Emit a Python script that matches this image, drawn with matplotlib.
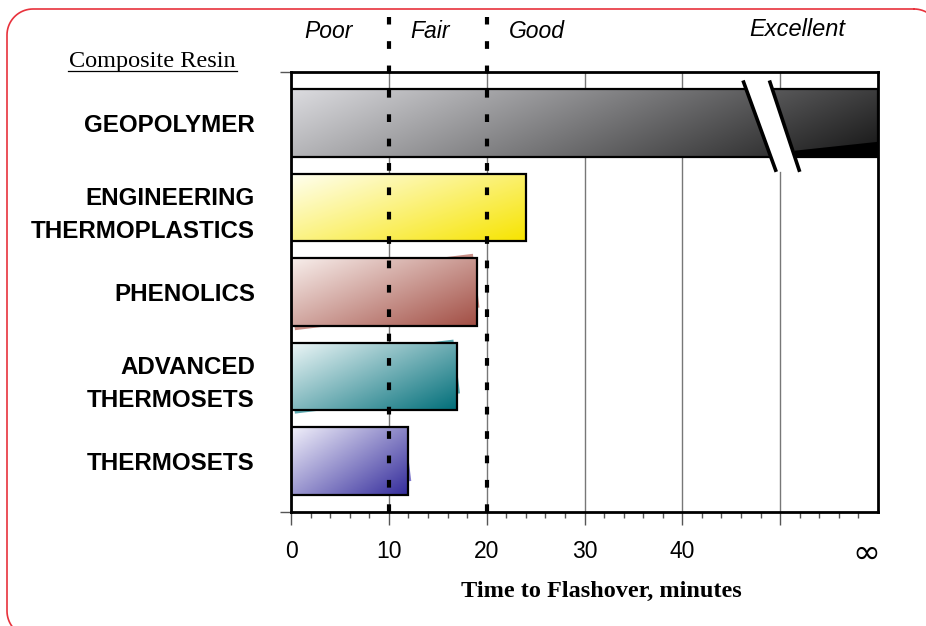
import numpy as np
import matplotlib
matplotlib.use('Agg')
import matplotlib.pyplot as plt
from matplotlib.colors import to_rgb
from matplotlib.patches import Rectangle, Polygon
from matplotlib.transforms import Affine2D, blended_transform_factory
from matplotlib.ticker import FixedLocator

plt.rcParams['font.family'] = ['Liberation Sans', 'DejaVu Sans']

# datos
categories = ['GEOPOLYMER', 'ENGINEERING\nTHERMOPLASTICS', 'PHENOLICS',
              'ADVANCED\nTHERMOSETS', 'THERMOSETS']
minutes = [np.inf, 24, 19, 17, 12]   # geopolymer never reaches flashover
light_colors = ['#dcdce0', '#fffff2', '#f8efec', '#eef7f8', '#f2f1fb']
dark_colors = ['#151515', '#f7e400', '#a24e44', '#006e79', '#332b9b']
shadow_colors = [None, None, '#c07b72', '#3f9aa3', '#6b63c4']
rating_labels = ['Poor', 'Fair', 'Good', 'Excellent']
rating_limits = [10, 20]
tick_values = [0, 10, 20, 30, 40, 50]
tick_labels = ['0', '10', '20', '30', '40', '']

X_MAX = 60
BAR_H = 0.8
BREAK_AT = 49


def gradiente(c0, c1, wu, wv):
    u = np.linspace(0, 1, 300)[None, :]
    v = np.linspace(0, 1, 80)[:, None]
    t = np.clip(wu * u + wv * v, 0, 1)
    c0, c1 = np.array(to_rgb(c0)), np.array(to_rgb(c1))
    return c0 + (c1 - c0) * t[..., None]


def borde_redondeado(x0, y0, x1, y1, r):
    # rectangulo con esquinas redondeadas, eje y hacia abajo
    pts = []
    for cx, cy, a0 in [(x1 - r, y0 + r, -90), (x1 - r, y1 - r, 0),
                       (x0 + r, y1 - r, 90), (x0 + r, y0 + r, 180)]:
        a = np.radians(np.linspace(a0, a0 + 90, 20))
        pts += list(zip(cx + r * np.cos(a), cy + r * np.sin(a)))
    pts.append(pts[0])
    return np.array(pts)


fig = plt.figure(figsize=(9.26, 6.26), dpi=100)

# fondo con borde rojo redondeado (coordenadas en pixeles)
bg = fig.add_axes([0, 0, 1, 1], zorder=-1)
bg.set_xlim(0, 926)
bg.set_ylim(626, 0)
bg.axis('off')
b = borde_redondeado(7, 9, 940, 637, 26)
bg.plot(b[:, 0], b[:, 1], color='#e8323c', lw=1.2)

ax = fig.add_axes([291 / 926, 1 - 512 / 626, 587 / 926, 440 / 626])
ax.set_xlim(0, X_MAX)
ax.set_ylim(4.6, -0.6)

ypos = np.arange(len(categories))
for i, (val, c0, c1, sc) in enumerate(zip(minutes, light_colors, dark_colors, shadow_colors)):
    w = min(val, X_MAX)
    y0, y1 = ypos[i] - BAR_H / 2, ypos[i] + BAR_H / 2
    if i == 0:
        img = gradiente(c0, c1, 0.8, 0.2)
    else:
        img = gradiente(c0, c1, 0.55, 0.45)
    ax.imshow(img, extent=(0, w, y1, y0), aspect='auto', zorder=2, interpolation='bilinear')
    ax.add_patch(Rectangle((0, y0), w, BAR_H, fc='none', ec='black', lw=1.6, zorder=3))
    if sc is not None:
        ax.set_xlim(0, X_MAX)
        ax.set_ylim(4.6, -0.6)
        cx, cy = ax.transData.transform((w / 2, ypos[i]))
        tr = ax.transData + Affine2D().translate(-cx, -cy).scale(1.0, 0.8).rotate_deg(7).translate(cx, cy)
        ax.add_patch(Rectangle((0, y0), w, BAR_H, fc=sc, ec='none', alpha=0.85,
                               zorder=1.5, transform=tr))

# cuña negra y corte del eje en GEOPOLYMER
y1 = ypos[0] + BAR_H / 2
ax.add_patch(Polygon([(BREAK_AT + 2.5, 0.33), (X_MAX, 0.225), (X_MAX, y1), (BREAK_AT + 2.5, y1)],
                     closed=True, fc='black', ec='none', zorder=2.5))
l1 = [(BREAK_AT - 2.8, -0.5), (BREAK_AT + 0.6, 0.58)]
l2 = [(BREAK_AT - 0.1, -0.5), (BREAK_AT + 3.0, 0.58)]
ax.add_patch(Polygon([l1[0], l2[0], l2[1], l1[1]], closed=True, fc='white', ec='none', zorder=4))
for l in (l1, l2):
    ax.plot([l[0][0], l[1][0]], [l[0][1], l[1][1]], color='black', lw=2.6, zorder=5,
            solid_capstyle='butt')

# lineas discontinuas de clasificacion
trans = blended_transform_factory(ax.transData, ax.transAxes)
for x in rating_limits:
    ax.plot([x, x], [0, 1.125], transform=trans, color='black', lw=3,
            linestyle=(0, (1.85, 4.0)), clip_on=False, zorder=6)

ax.set_xlim(0, X_MAX)
ax.set_ylim(4.6, -0.6)

ax.set_axisbelow(True)
ax.xaxis.set_major_locator(FixedLocator(tick_values))
ax.set_xticklabels(tick_labels, fontsize=16.5)
ax.xaxis.set_minor_locator(FixedLocator([v for v in range(2, X_MAX, 2) if v % 10 != 0]))
ax.tick_params(axis='x', which='major', length=9, width=1, color='#555555', pad=11)
ax.tick_params(axis='x', which='minor', length=4.5, width=1, color='#555555')
ax.grid(axis='x', which='major', color='#777777', lw=1)

ax.set_yticks(ypos)
ax.set_yticklabels(categories, fontsize=17.4, fontweight='bold', linespacing=1.55)
ax.yaxis.set_minor_locator(FixedLocator([-0.6, 4.6]))
ax.tick_params(axis='y', which='major', length=0, pad=26)
ax.tick_params(axis='y', which='minor', length=8, width=1, color='#555555')

for s in ax.spines.values():
    s.set_linewidth(2)
    s.set_color('black')

# textos
for lab, (px, py) in zip(rating_labels, [(328, 32), (430, 32), (537, 32), (797, 30)]):
    bg.text(px, py, lab, fontsize=16.5 if lab != 'Excellent' else 17, style='italic',
            ha='center', va='center')
bg.text(152, 61, 'Composite Resin', fontsize=17.5, family='Liberation Serif',
        ha='center', va='center')
bg.plot([68, 237], [71, 71], color='black', lw=0.9)
bg.text(866, 553, '\u221e', fontsize=24, ha='center', va='center',
        family=['DejaVu Sans'])
bg.text(601, 591, 'Time to Flashover, minutes', fontsize=17.5, family='Liberation Serif',
        fontweight='bold', ha='center', va='center')

fig.savefig('out.png', dpi=100)
